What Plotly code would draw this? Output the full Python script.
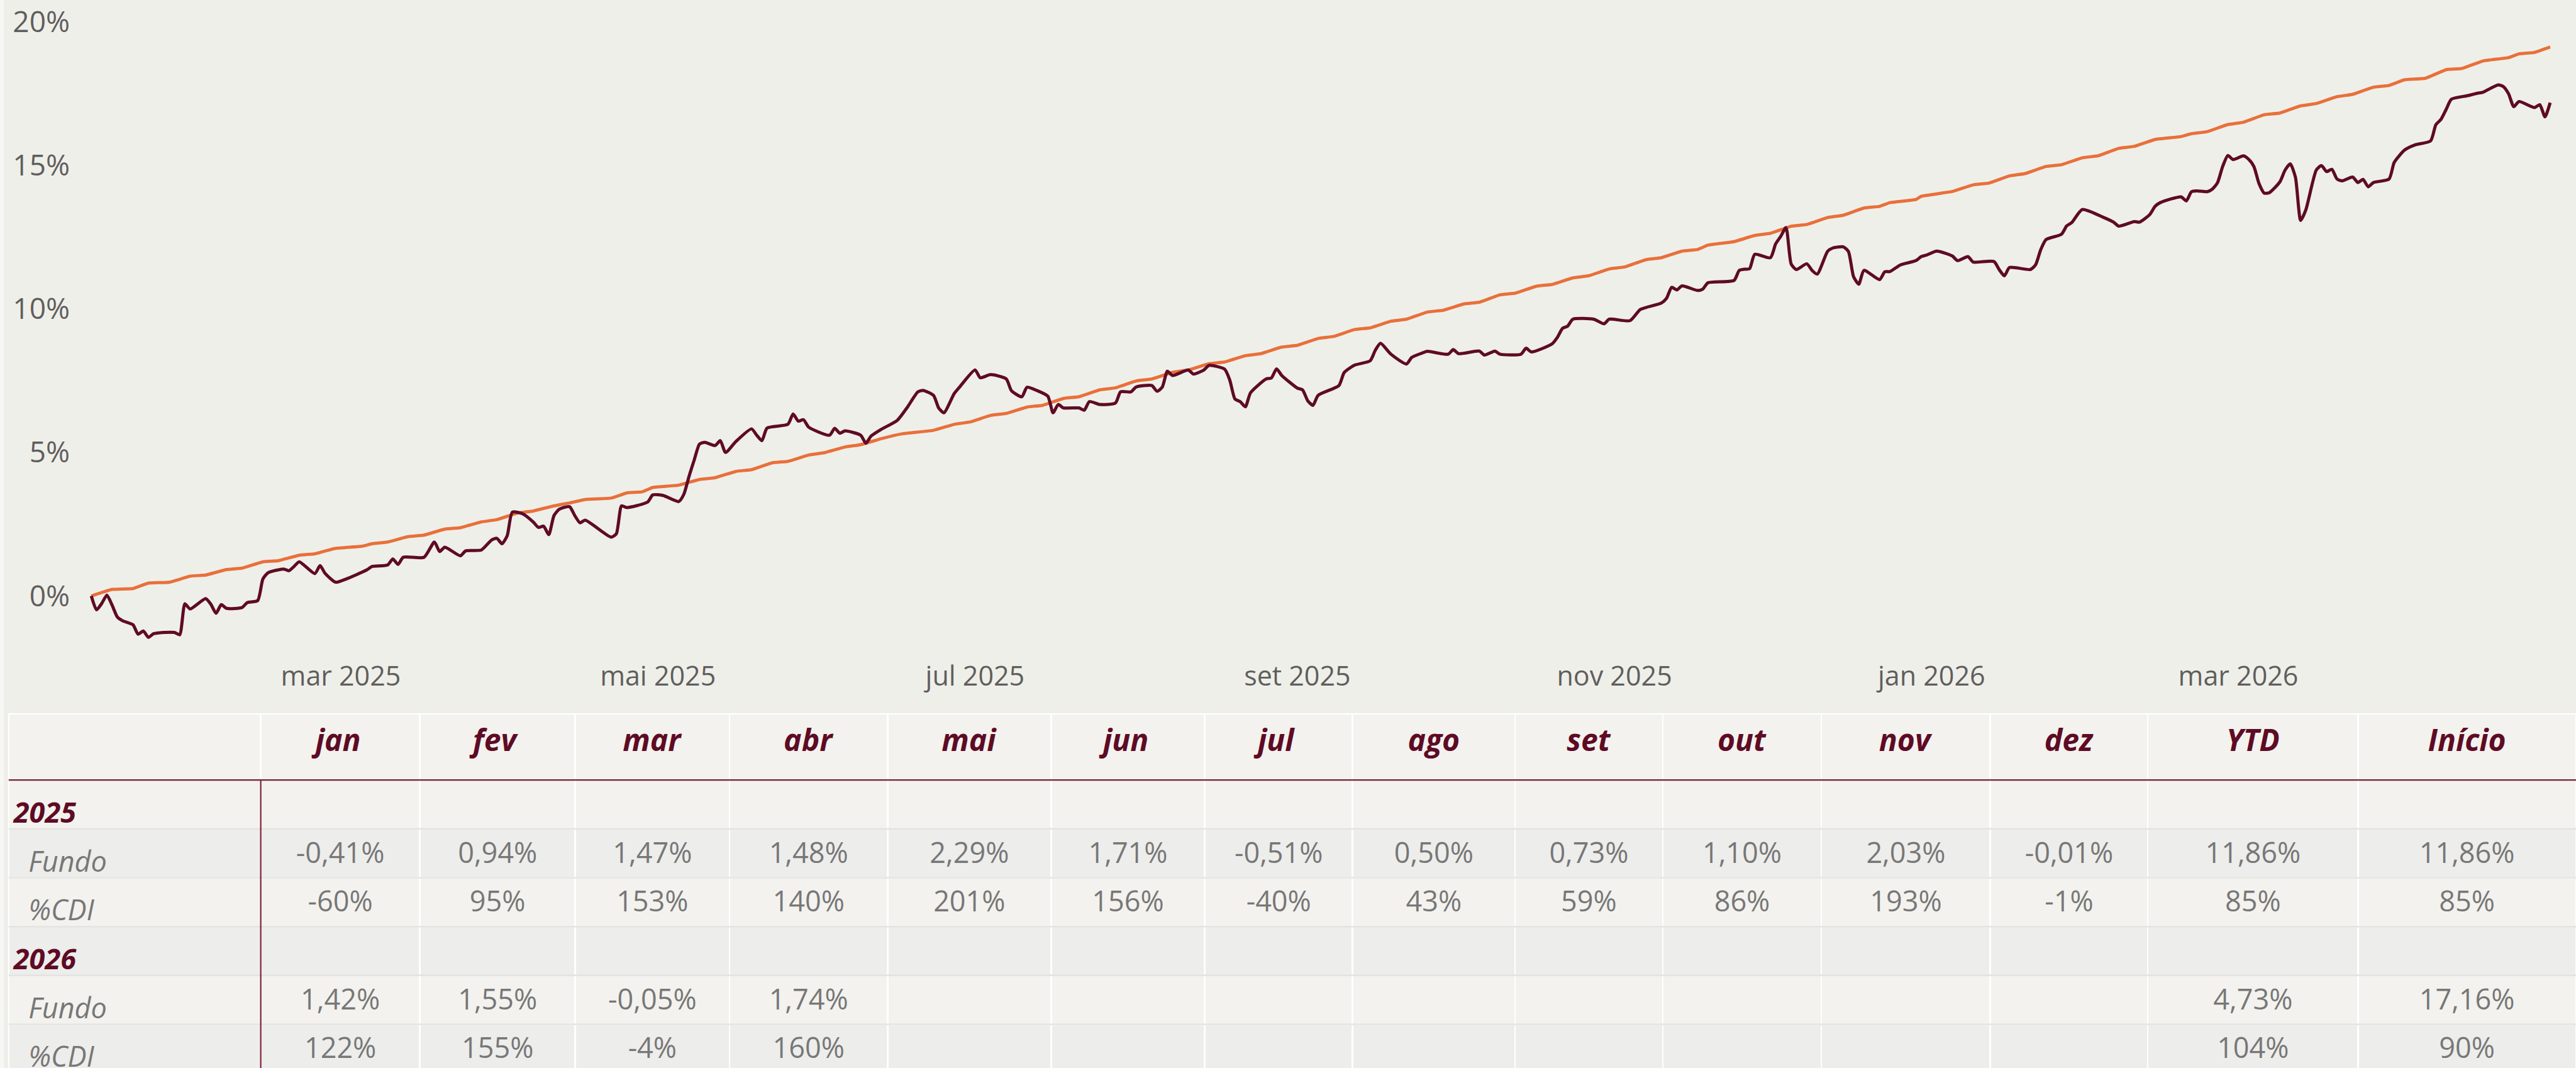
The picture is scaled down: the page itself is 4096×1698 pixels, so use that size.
import plotly.graph_objects as go
import pandas as pd

# ---------------- data ----------------
fund_dates = [
    "2025-01-12", "2025-01-13", "2025-01-14", "2025-01-15", "2025-01-16", "2025-01-17", "2025-01-18",
    "2025-01-20", "2025-01-21", "2025-01-22", "2025-01-23", "2025-01-24", "2025-01-28", "2025-01-29",
    "2025-01-30", "2025-01-31",
    "2025-02-03", "2025-02-04", "2025-02-05", "2025-02-06", "2025-02-07", "2025-02-10", "2025-02-11",
    "2025-02-13", "2025-02-14", "2025-02-15", "2025-02-18", "2025-02-19", "2025-02-20", "2025-02-21",
    "2025-02-24", "2025-02-25", "2025-02-26", "2025-02-28",
    "2025-03-02", "2025-03-06", "2025-03-07", "2025-03-10", "2025-03-11", "2025-03-12", "2025-03-13",
    "2025-03-17", "2025-03-19", "2025-03-20", "2025-03-21", "2025-03-24", "2025-03-25", "2025-03-28",
    "2025-03-30", "2025-03-31",
    "2025-04-01", "2025-04-02", "2025-04-03", "2025-04-05", "2025-04-07", "2025-04-08", "2025-04-09",
    "2025-04-10", "2025-04-11", "2025-04-12", "2025-04-14", "2025-04-15", "2025-04-16", "2025-04-17",
    "2025-04-22", "2025-04-23", "2025-04-24", "2025-04-25", "2025-04-29", "2025-04-30",
    "2025-05-02", "2025-05-05", "2025-05-06", "2025-05-07", "2025-05-08", "2025-05-09", "2025-05-10",
    "2025-05-12", "2025-05-13", "2025-05-14", "2025-05-16", "2025-05-19", "2025-05-20", "2025-05-21",
    "2025-05-22", "2025-05-26", "2025-05-27", "2025-05-28", "2025-05-29", "2025-05-30",
    "2025-06-03", "2025-06-04", "2025-06-05", "2025-06-06", "2025-06-09", "2025-06-10", "2025-06-11",
    "2025-06-13", "2025-06-16", "2025-06-18", "2025-06-20", "2025-06-21", "2025-06-23", "2025-06-24",
    "2025-06-25", "2025-06-27", "2025-06-28",
    "2025-07-01", "2025-07-02", "2025-07-04", "2025-07-07", "2025-07-08", "2025-07-10", "2025-07-11",
    "2025-07-13", "2025-07-15", "2025-07-16", "2025-07-17", "2025-07-18", "2025-07-21", "2025-07-22",
    "2025-07-23", "2025-07-25", "2025-07-28", "2025-07-29", "2025-07-31",
    "2025-08-01", "2025-08-04", "2025-08-05", "2025-08-06", "2025-08-07", "2025-08-08", "2025-08-11",
    "2025-08-12", "2025-08-14", "2025-08-15", "2025-08-18", "2025-08-19", "2025-08-20", "2025-08-21",
    "2025-08-22", "2025-08-23", "2025-08-26", "2025-08-27", "2025-08-28", "2025-08-29",
    "2025-09-01", "2025-09-02", "2025-09-03", "2025-09-04", "2025-09-05", "2025-09-09", "2025-09-10",
    "2025-09-12", "2025-09-15", "2025-09-16", "2025-09-17", "2025-09-19", "2025-09-22", "2025-09-23",
    "2025-09-25", "2025-09-26", "2025-09-30",
    "2025-10-01", "2025-10-02", "2025-10-06", "2025-10-07", "2025-10-09", "2025-10-10", "2025-10-14",
    "2025-10-15", "2025-10-16", "2025-10-20", "2025-10-21", "2025-10-22", "2025-10-23", "2025-10-24",
    "2025-10-28", "2025-10-30", "2025-10-31",
    "2025-11-04", "2025-11-06", "2025-11-10", "2025-11-11", "2025-11-12", "2025-11-13", "2025-11-14",
    "2025-11-17", "2025-11-18", "2025-11-19", "2025-11-24", "2025-11-25", "2025-11-26", "2025-11-27",
    "2025-11-28",
    "2025-12-01", "2025-12-02", "2025-12-03", "2025-12-04", "2025-12-05", "2025-12-06", "2025-12-08",
    "2025-12-09", "2025-12-10", "2025-12-12", "2025-12-13", "2025-12-15", "2025-12-16", "2025-12-17",
    "2025-12-18", "2025-12-19", "2025-12-22", "2025-12-23", "2025-12-24", "2025-12-26", "2025-12-29",
    "2025-12-30", "2025-12-31",
    "2026-01-02", "2026-01-05", "2026-01-06", "2026-01-08", "2026-01-09", "2026-01-13", "2026-01-14",
    "2026-01-15", "2026-01-16", "2026-01-20", "2026-01-21", "2026-01-22", "2026-01-23", "2026-01-26",
    "2026-01-27", "2026-01-28", "2026-01-30",
    "2026-02-03", "2026-02-05", "2026-02-06", "2026-02-09", "2026-02-10", "2026-02-12", "2026-02-13",
    "2026-02-14", "2026-02-18", "2026-02-19", "2026-02-20", "2026-02-21", "2026-02-23", "2026-02-24",
    "2026-02-25", "2026-02-26", "2026-02-27", "2026-02-28",
    "2026-03-02", "2026-03-03", "2026-03-04", "2026-03-05", "2026-03-06", "2026-03-07", "2026-03-09",
    "2026-03-10", "2026-03-11", "2026-03-12", "2026-03-13", "2026-03-14", "2026-03-16", "2026-03-17",
    "2026-03-18", "2026-03-19", "2026-03-20", "2026-03-21", "2026-03-23", "2026-03-24", "2026-03-25",
    "2026-03-26", "2026-03-27", "2026-03-30", "2026-03-31",
    "2026-04-02", "2026-04-04", "2026-04-07", "2026-04-08", "2026-04-09", "2026-04-10", "2026-04-11",
    "2026-04-14", "2026-04-16", "2026-04-17", "2026-04-20", "2026-04-21", "2026-04-22", "2026-04-23",
    "2026-04-24", "2026-04-27", "2026-04-28", "2026-04-29", "2026-04-30",
]
fund_values = [
    0.00, -0.48, -0.26, 0.03, -0.32, -0.73, -0.86,
    -1.00, -1.33, -1.22, -1.44, -1.31, -1.27, -1.35,
    -0.27, -0.45,
    -0.09, -0.29, -0.60, -0.30, -0.43, -0.40, -0.23,
    -0.16, 0.59, 0.81, 0.94, 0.88, 1.03, 1.19,
    0.78, 1.06, 0.78, 0.48,
    0.59, 0.91, 1.03, 1.08, 1.29, 1.10, 1.35,
    1.35, 1.88, 1.55, 1.70, 1.40, 1.57, 1.60,
    1.95, 2.01,
    1.82, 2.10, 2.92, 2.86, 2.58, 2.39, 2.43,
    2.14, 2.80, 3.02, 3.11, 2.80, 2.55, 2.64,
    2.05, 2.17, 3.14, 3.08, 3.27, 3.52,
    3.50, 3.29, 3.55, 4.18, 4.75, 5.29, 5.35,
    5.24, 5.41, 5.00, 5.38, 5.82, 5.60, 5.41,
    5.85, 5.98, 6.34, 6.09, 6.14, 5.88,
    5.60, 5.84, 5.67, 5.75, 5.60, 5.32, 5.57,
    5.81, 6.11, 6.58, 7.11, 7.16, 6.99, 6.55,
    6.38, 7.05, 7.27,
    7.87, 7.60, 7.71, 7.56, 7.15, 6.94, 7.27,
    7.15, 6.96, 6.38, 6.67, 6.55, 6.55, 6.47,
    6.77, 6.67, 6.72, 7.11, 7.11,
    7.28, 7.33, 7.13, 7.27, 7.83, 7.68, 7.87,
    7.73, 7.87, 8.03, 7.90, 7.52, 6.86, 6.77,
    6.59, 7.08, 7.56, 7.59, 7.91, 7.68,
    7.24, 7.18, 6.80, 6.64, 6.99, 7.33, 7.78,
    8.04, 8.19, 8.56, 8.80, 8.42, 8.08, 8.31,
    8.46, 8.52, 8.42,
    8.58, 8.44, 8.53, 8.39, 8.53, 8.42, 8.42,
    8.63, 8.50, 8.78, 9.00, 9.32, 9.40, 9.64,
    9.64, 9.48, 9.64,
    9.59, 9.98, 10.20, 10.36, 10.75, 10.66, 10.80,
    10.64, 10.69, 10.91, 10.99, 11.34, 11.38, 11.40,
    11.90,
    11.78, 12.26, 12.53, 12.83, 11.56, 11.37, 11.57,
    11.34, 11.21, 12.00, 12.12, 12.16, 12.00, 11.12,
    10.86, 11.34, 11.02, 11.29, 11.30, 11.53, 11.68,
    11.82, 11.87,
    12.01, 11.84, 11.68, 11.82, 11.63, 11.65, 11.37,
    11.15, 11.44, 11.37, 11.53, 12.06, 12.41, 12.60,
    12.89, 13.01, 13.46,
    13.19, 13.02, 12.88, 13.04, 13.02, 13.29, 13.57,
    13.70, 13.90, 13.76, 14.08, 14.11, 14.08, 14.17,
    14.39, 14.96, 15.34, 15.20,
    15.33, 15.21, 14.96, 14.36, 14.03, 14.05, 14.42,
    14.83, 15.05, 14.58, 13.08, 13.45, 14.83, 14.99,
    14.78, 14.86, 14.52, 14.46, 14.59, 14.40, 14.51,
    14.25, 14.40, 14.52, 15.10,
    15.53, 15.71, 15.85, 16.41, 16.60, 16.95, 17.30,
    17.42, 17.51, 17.54, 17.80, 17.74, 17.49, 17.04,
    17.22, 17.01, 17.11, 16.69, 17.18,
]

cdi_dates = [
    "2025-01-12", "2025-01-16", "2025-01-20", "2025-01-23", "2025-01-27", "2025-01-31", "2025-02-03",
    "2025-02-07", "2025-02-10", "2025-02-14", "2025-02-17", "2025-02-21", "2025-02-24", "2025-02-28",
    "2025-03-05", "2025-03-07", "2025-03-10", "2025-03-14", "2025-03-17", "2025-03-21", "2025-03-24",
    "2025-03-28", "2025-03-31", "2025-04-04", "2025-04-07", "2025-04-11", "2025-04-14", "2025-04-17",
    "2025-04-22", "2025-04-25", "2025-04-28", "2025-04-30", "2025-05-05", "2025-05-09", "2025-05-12",
    "2025-05-16", "2025-05-19", "2025-05-23", "2025-05-26", "2025-05-30", "2025-06-02", "2025-06-06",
    "2025-06-09", "2025-06-13", "2025-06-17", "2025-06-23", "2025-06-27", "2025-06-30", "2025-07-04",
    "2025-07-07", "2025-07-11", "2025-07-14", "2025-07-18", "2025-07-21", "2025-07-25", "2025-07-28",
    "2025-08-01", "2025-08-04", "2025-08-08", "2025-08-11", "2025-08-15", "2025-08-18", "2025-08-22",
    "2025-08-25", "2025-08-29", "2025-09-01", "2025-09-05", "2025-09-08", "2025-09-12", "2025-09-15",
    "2025-09-19", "2025-09-22", "2025-09-26", "2025-09-29", "2025-10-03", "2025-10-06", "2025-10-10",
    "2025-10-13", "2025-10-17", "2025-10-20", "2025-10-24", "2025-10-27", "2025-10-31", "2025-11-03",
    "2025-11-07", "2025-11-10", "2025-11-14", "2025-11-17", "2025-11-19", "2025-11-24", "2025-11-28",
    "2025-12-01", "2025-12-05", "2025-12-08", "2025-12-12", "2025-12-15", "2025-12-19", "2025-12-22",
    "2025-12-24", "2025-12-29", "2025-12-30", "2026-01-05", "2026-01-09", "2026-01-12", "2026-01-16",
    "2026-01-19", "2026-01-23", "2026-01-26", "2026-01-30", "2026-02-02", "2026-02-06", "2026-02-09",
    "2026-02-13", "2026-02-18", "2026-02-20", "2026-02-23", "2026-02-27", "2026-03-02", "2026-03-06",
    "2026-03-09", "2026-03-13", "2026-03-16", "2026-03-20", "2026-03-23", "2026-03-27", "2026-03-30",
    "2026-04-02", "2026-04-06", "2026-04-10", "2026-04-13", "2026-04-17", "2026-04-22", "2026-04-24",
    "2026-04-27", "2026-04-30",
]
cdi_values = [
    0.00, 0.23, 0.26, 0.45, 0.48, 0.69, 0.73,
    0.92, 0.97, 1.19, 1.23, 1.42, 1.47, 1.66,
    1.73, 1.82, 1.88, 2.07, 2.12, 2.33, 2.38,
    2.58, 2.66, 2.89, 2.96, 3.14, 3.24, 3.36,
    3.41, 3.59, 3.63, 3.78, 3.86, 4.06, 4.12,
    4.34, 4.40, 4.64, 4.69, 4.91, 4.99, 5.19,
    5.27, 5.48, 5.65, 5.77, 5.98, 6.06, 6.29,
    6.36, 6.58, 6.64, 6.88, 6.94, 7.18, 7.25,
    7.49, 7.56, 7.79, 7.87, 8.09, 8.15, 8.37,
    8.44, 8.67, 8.73, 8.97, 9.04, 9.28, 9.34,
    9.57, 9.64, 9.89, 9.95, 10.17, 10.23, 10.49,
    10.55, 10.79, 10.85, 11.08, 11.15, 11.39, 11.46,
    11.71, 11.78, 12.01, 12.07, 12.22, 12.34, 12.56,
    12.63, 12.88, 12.94, 13.18, 13.26, 13.51, 13.57,
    13.70, 13.81, 13.92, 14.09, 14.32, 14.38, 14.63,
    14.71, 14.96, 15.02, 15.26, 15.33, 15.59, 15.66,
    15.90, 16.00, 16.10, 16.17, 16.42, 16.50, 16.76,
    16.82, 17.07, 17.15, 17.39, 17.47, 17.72, 17.78,
    17.98, 18.03, 18.33, 18.37, 18.63, 18.75, 18.88,
    18.93, 19.12,
]

x_tick_dates = ["2025-03-01", "2025-05-01", "2025-07-01", "2025-09-01", "2025-11-01", "2026-01-01", "2026-03-01"]
x_tick_labels = ["mar 2025", "mai 2025", "jul 2025", "set 2025", "nov 2025", "jan 2026", "mar 2026"]
y_tick_values = [0, 5, 10, 15, 20]
y_tick_labels = ["0%", "5%", "10%", "15%", "20%"]

table_headers = ["", "jan", "fev", "mar", "abr", "mai", "jun", "jul", "ago", "set", "out", "nov", "dez", "YTD", "Início"]
row_labels = ["2025", "Fundo", "%CDI", "2026", "Fundo", "%CDI"]
year_rows = [True, False, False, True, False, False]
fundo_2025 = ["-0,41%", "0,94%", "1,47%", "1,48%", "2,29%", "1,71%", "-0,51%", "0,50%", "0,73%", "1,10%", "2,03%", "-0,01%", "11,86%", "11,86%"]
pcdi_2025 = ["-60%", "95%", "153%", "140%", "201%", "156%", "-40%", "43%", "59%", "86%", "193%", "-1%", "85%", "85%"]
fundo_2026 = ["1,42%", "1,55%", "-0,05%", "1,74%", "", "", "", "", "", "", "", "", "4,73%", "17,16%"]
pcdi_2026 = ["122%", "155%", "-4%", "160%", "", "", "", "", "", "", "", "", "104%", "90%"]

# ---------------- layout constants (output pixels) ----------------
W, H = 4096, 1698
S = 0.863
FONT = "Open Sans, Noto Sans, DejaVu Sans, sans-serif"
BG = "#EFEFEA"
FUND_COLOR = "#5E0B24"
CDI_COLOR = "#E8703A"
MAROON = "#5E0B25"
TICK_GRAY = "#605E5C"
VAL_GRAY = "#777777"

PLOT_L, PLOT_R, PLOT_T, PLOT_B = 136, W, 0, 1040
ZERO_Y = 1098 * S
PX_PER_PCT = 52.9 * S
BASE_DATE = pd.Timestamp("2025-03-01")
BASE_X = 628 * S
PX_PER_DAY = 9.578 * S


def px_to_date(px):
    return (BASE_DATE + pd.Timedelta(days=(px - BASE_X) / PX_PER_DAY)).isoformat()


def px_to_val(py):
    return (ZERO_Y - py) / PX_PER_PCT


TABLE_T = 1315 * S
TABLE_L = 16 * S
HEADER_H = 122 * S
ROW_H = 90 * S
TEXT_SHIFT = 12   # plotly tables top-align text; body text layer is pushed down to centre it
col_widths = [464, 293, 286, 284, 291, 301, 283, 272, 299, 272, 292, 311, 290, 387, 401]

# ---------------- figure ----------------
fig = go.Figure()

fig.add_trace(go.Scatter(
    x=pd.to_datetime(cdi_dates), y=cdi_values, mode="lines",
    line=dict(color=CDI_COLOR, width=5, shape="spline", smoothing=0.3),
    hoverinfo="skip", showlegend=False,
))
fig.add_trace(go.Scatter(
    x=pd.to_datetime(fund_dates), y=fund_values, mode="lines",
    line=dict(color=FUND_COLOR, width=5, shape="spline", smoothing=0.6),
    hoverinfo="skip", showlegend=False,
))

# table contents
header_vals = ["" if h == "" else f"<b><i>{h}</i></b>" for h in table_headers]
label_col = []
label_colors = []
for lab, is_year in zip(row_labels, year_rows):
    if is_year:
        label_col.append(f"<b><i>{lab}</i></b>")
        label_colors.append(MAROON)
    else:
        label_col.append("\u00a0\u00a0<i>" + lab + "</i>")
        label_colors.append(VAL_GRAY)

cell_cols = [label_col]
for j in range(len(table_headers) - 1):
    cell_cols.append(["", fundo_2025[j], pcdi_2025[j], "", fundo_2026[j], pcdi_2026[j]])

LIGHT = "#F3F2EE"
DARK = "#EDEDEB"
row_fills = [LIGHT, DARK, LIGHT, DARK, LIGHT, DARK]
n_cols = len(table_headers)
n_rows = len(row_labels)

# grid layer: fills and cell borders
fig.add_trace(go.Table(
    domain=dict(x=[TABLE_L / W, 1], y=[0, 1 - TABLE_T / H]),
    columnwidth=col_widths,
    header=dict(
        values=[""] * n_cols, fill_color=LIGHT, height=HEADER_H,
        line=dict(color="white", width=2.5),
        font=dict(family=FONT, size=20),
    ),
    cells=dict(
        values=[[""] * n_rows for _ in range(n_cols)], fill_color=[row_fills], height=ROW_H,
        line=dict(color="white", width=2.5),
        font=dict(family=FONT, size=20),
    ),
))

# text layer: same table, transparent; a taller header pushes body text to mid-cell
fig.add_trace(go.Table(
    domain=dict(x=[TABLE_L / W, 1], y=[0, 1 - TABLE_T / H]),
    columnwidth=col_widths,
    header=dict(
        values=header_vals, fill_color="rgba(0,0,0,0)", height=HEADER_H + TEXT_SHIFT, align="center",
        line=dict(color="rgba(0,0,0,0)", width=0),
        font=dict(family=FONT, size=48, color=MAROON),
    ),
    cells=dict(
        values=cell_cols, fill_color="rgba(0,0,0,0)", height=ROW_H,
        align=["left", "center"],
        line=dict(color="rgba(0,0,0,0)", width=0),
        font=dict(family=FONT, size=45, color=[label_colors, VAL_GRAY]),
    ),
))

shapes = []
# thin lighter strip at the very left edge (page behind the visual)
shapes.append(dict(type="rect", xref="paper", yref="paper", x0=0, x1=6 / W, y0=0, y1=1,
                   fillcolor="#F7F7F6", line=dict(width=0), layer="below"))
# horizontal light-gray separators between body rows
body_top = TABLE_T + HEADER_H
for k in range(1, n_rows):
    yk = body_top + k * ROW_H
    shapes.append(dict(type="line", xref="paper", yref="paper", x0=TABLE_L / W, x1=1,
                       y0=1 - yk / H, y1=1 - yk / H, line=dict(color="#E3E3E1", width=2.5)))
# maroon header underline
shapes.append(dict(type="line", xref="paper", yref="paper", x0=TABLE_L / W, x1=1,
                   y0=1 - body_top / H, y1=1 - body_top / H, line=dict(color="#7A1F35", width=2.2)))
# maroon vertical line right of the label column
col0_right = TABLE_L + col_widths[0] / sum(col_widths) * (W - TABLE_L)
shapes.append(dict(type="line", xref="paper", yref="paper", x0=col0_right / W, x1=col0_right / W,
                   y0=0, y1=1 - body_top / H, line=dict(color="#7A1F35", width=2.2)))

fig.update_layout(
    width=W, height=H,
    margin=dict(l=0, r=0, t=0, b=0),
    paper_bgcolor=BG, plot_bgcolor=BG,
    showlegend=False,
    shapes=shapes,
    xaxis=dict(
        type="date", domain=[PLOT_L / W, PLOT_R / W],
        range=[px_to_date(PLOT_L), px_to_date(PLOT_R)],
        tickvals=x_tick_dates, ticktext=x_tick_labels,
        showgrid=False, zeroline=False, showline=False, ticks="",
        tickfont=dict(family=FONT, size=43, color=TICK_GRAY),
        ticklabelstandoff=6, automargin=False, fixedrange=True,
    ),
    yaxis=dict(
        domain=[1 - PLOT_B / H, 1 - PLOT_T / H],
        range=[px_to_val(PLOT_B), px_to_val(PLOT_T)],
        tickvals=y_tick_values, ticktext=y_tick_labels,
        showgrid=False, zeroline=False, showline=False, ticks="",
        tickfont=dict(family=FONT, size=46, color=TICK_GRAY),
        ticklabelstandoff=24, automargin=False, fixedrange=True,
    ),
)

# the page's default 8px body margin would shift the figure; remove it
fig.write_html(
    "out.html",
    config={"displayModeBar": False},
    post_script="document.body.style.margin='0px';",
)
